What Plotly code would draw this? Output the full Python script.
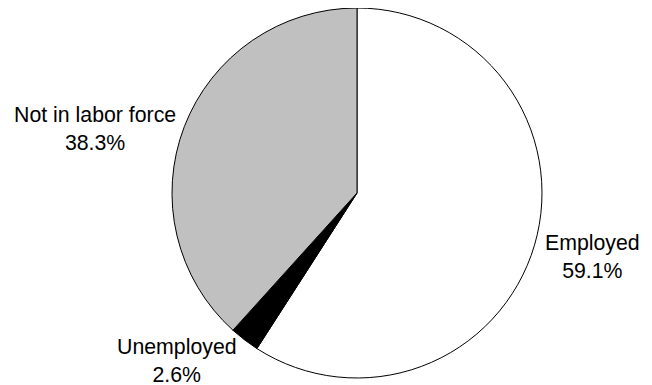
import plotly.graph_objects as go

categories = ["Employed", "Unemployed", "Not in labor force"]
values = [59.1, 2.6, 38.3]
colors = ["#ffffff", "#000000", "#c0c0c0"]

# The page body adds an 8px margin, so the figure is drawn 8px in from the corner
W, H = 644, 377
cx, cy, r = 349, 185, 185

fig = go.Figure(go.Pie(
    labels=categories,
    values=values,
    sort=False,
    direction="clockwise",
    rotation=0,
    marker=dict(colors=colors, line=dict(color="#000000", width=1)),
    textinfo="none",
    hoverinfo="label+percent",
    showlegend=False,
    domain=dict(x=[(cx - r) / W, (cx + r) / W], y=[(H - cy - r) / H, (H - cy + r) / H]),
))

label_pos = {
    "Employed": (584, 249),
    "Unemployed": (169, 353),
    "Not in labor force": (87, 121),
}
for cat, v in zip(categories, values):
    px, py = label_pos[cat]
    fig.add_annotation(
        x=px / W, y=1 - py / H, xref="paper", yref="paper",
        text=f"{cat}<br>{v:.1f}%", showarrow=False,
        font=dict(family="Liberation Sans, Arial, sans-serif", size=21.3, color="#000000"),
        align="center", xanchor="center", yanchor="middle",
    )

fig.update_layout(
    width=W, height=H,
    margin=dict(l=0, r=0, t=0, b=0),
    paper_bgcolor="#ffffff",
    plot_bgcolor="#ffffff",
)
fig.write_html("out.html")
